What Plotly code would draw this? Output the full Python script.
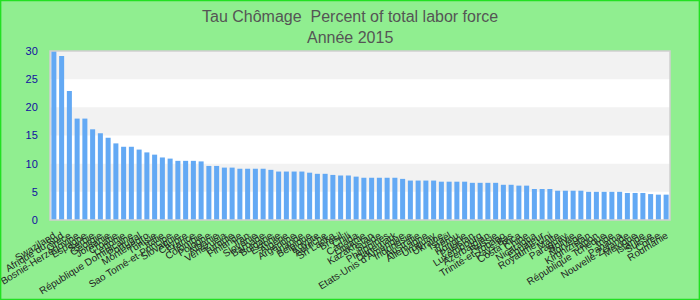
import plotly.graph_objects as go

countries = [
    "Swaziland", "Afrique du Sud", "Grèce", "Bosnie-Herzégovine", "Espagne",
    "Serbie", "Géorgie", "Jordanie", "Croatie", "Lettonie",
    "République Dominicaine", "Portugal", "Monténégro", "Tunisie", "Italie",
    "Sao Tomé-et-Principe", "Slovaquie", "Chypre", "France", "Colombie",
    "Pologne", "Albanie", "Venezuela", "Turquie", "Finlande",
    "Iran", "Slovénie", "Barbade", "Bulgarie", "Estonie",
    "Algérie", "Argentine", "Irlande", "Belgique", "Egypte",
    "Autriche", "Sri Lanka", "Brésil", "Chili", "Canada",
    "Lituanie", "Kazakhstan", "Suède", "Philippines", "Danemark",
    "Etats-Unis d'Amérique", "Indonésie", "Australie", "Allemagne", "Uruguay",
    "Ukraine", "Israël", "Pérou", "Hongrie", "Pakistan",
    "Luxembourg", "Azerbaïdjan", "Russie", "Trinité-et-Tobago", "Pays-Bas",
    "Costa Rica", "Chine", "Nicaragua", "Equateur", "Royaume-Uni",
    "Malte", "Paraguay", "Bolivie", "Norvège", "Kirghizistan",
    "Japon", "République Tchèque", "Inde", "Panama", "Nouvelle-Zélande",
    "Mexique", "Islande", "Suisse", "Corée", "Roumanie",
]

unemployment = [
    30.0, 29.1, 22.9, 18.0, 18.0,
    16.1, 15.4, 14.6, 13.6, 13.0,
    13.0, 12.5, 12.0, 11.6, 11.1,
    10.9, 10.5, 10.5, 10.5, 10.4,
    9.6, 9.6, 9.3, 9.3, 9.1,
    9.1, 9.1, 9.1, 8.9, 8.6,
    8.6, 8.6, 8.6, 8.4, 8.2,
    8.2, 8.0, 7.9, 7.9, 7.7,
    7.5, 7.5, 7.5, 7.5, 7.5,
    7.3, 7.0, 7.0, 7.0, 7.0,
    6.8, 6.8, 6.8, 6.8, 6.6,
    6.6, 6.6, 6.6, 6.25, 6.25,
    6.1, 6.1, 5.5, 5.5, 5.5,
    5.2, 5.2, 5.2, 5.2, 5.0,
    5.0, 5.0, 5.0, 5.0, 4.8,
    4.8, 4.8, 4.6, 4.5, 4.5,
]

y_ticks = [0, 5, 10, 15, 20, 25, 30]
title_line1 = "Tau Chômage  Percent of total labor force"
title_line2 = "Année 2015"

W, H = 700, 300
ML, MR, MT, MB = 50, 30, 51, 80
PW, PH = W - ML - MR, H - MT - MB

fig = go.Figure(
    go.Bar(
        x=countries,
        y=unemployment,
        marker=dict(color="#63a9f4", line=dict(width=0)),
        hoverinfo="x+y",
    )
)

shapes = []
# alternating horizontal bands (gray on odd bands)
for i in range(len(y_ticks) - 1):
    if i % 2 == 1:
        shapes.append(dict(
            type="rect", xref="paper", yref="y",
            x0=0, x1=1, y0=y_ticks[i], y1=y_ticks[i + 1],
            fillcolor="#f2f2f2", line=dict(width=0), layer="below",
        ))
# plot area border
shapes.append(dict(
    type="rect", xref="paper", yref="paper", x0=0, x1=1, y0=0, y1=1,
    line=dict(color="#d0d0d0", width=1.5), fillcolor="rgba(0,0,0,0)", layer="above",
))
# outer figure border
shapes.append(dict(
    type="rect", xref="paper", yref="paper",
    x0=-ML / PW + 0.6 / PW, x1=1 + MR / PW - 0.6 / PW,
    y0=-MB / PH + 0.6 / PH, y1=1 + MT / PH - 0.6 / PH,
    line=dict(color="#22e022", width=1.5), fillcolor="rgba(0,0,0,0)",
))

fig.update_layout(
    width=W, height=H,
    margin=dict(l=ML, r=MR, t=MT, b=MB, pad=0),
    paper_bgcolor="#90ee90",
    plot_bgcolor="#ffffff",
    bargap=0.35,
    showlegend=False,
    font=dict(family="Liberation Sans, Arial, sans-serif"),
    shapes=shapes,
    annotations=[
        dict(text=title_line1, xref="paper", yref="paper",
             x=(W / 2 - ML) / PW, y=1 + (MT - 16) / PH, xanchor="center", yanchor="middle",
             showarrow=False, font=dict(size=16, color="#555555")),
        dict(text=title_line2, xref="paper", yref="paper",
             x=(W / 2 - ML) / PW, y=1 + (MT - 37) / PH, xanchor="center", yanchor="middle",
             showarrow=False, font=dict(size=16, color="#555555")),
    ],
    xaxis=dict(
        type="category", tickmode="linear", tick0=0, dtick=1,
        tickangle=-32, tickfont=dict(size=10, color="#222222"),
        showgrid=False, zeroline=False, showline=False,
        ticks="outside", ticklen=5, tickcolor="rgba(0,0,0,0)",
        automargin=False,
    ),
    yaxis=dict(
        range=[0, 30], tickvals=y_ticks,
        tickfont=dict(size=11, color="#1010a0"),
        showgrid=False, zeroline=False, showline=False,
        ticks="outside", ticklen=9, tickcolor="rgba(0,0,0,0)",
        automargin=False,
    ),
)

fig.write_html("out.html")
